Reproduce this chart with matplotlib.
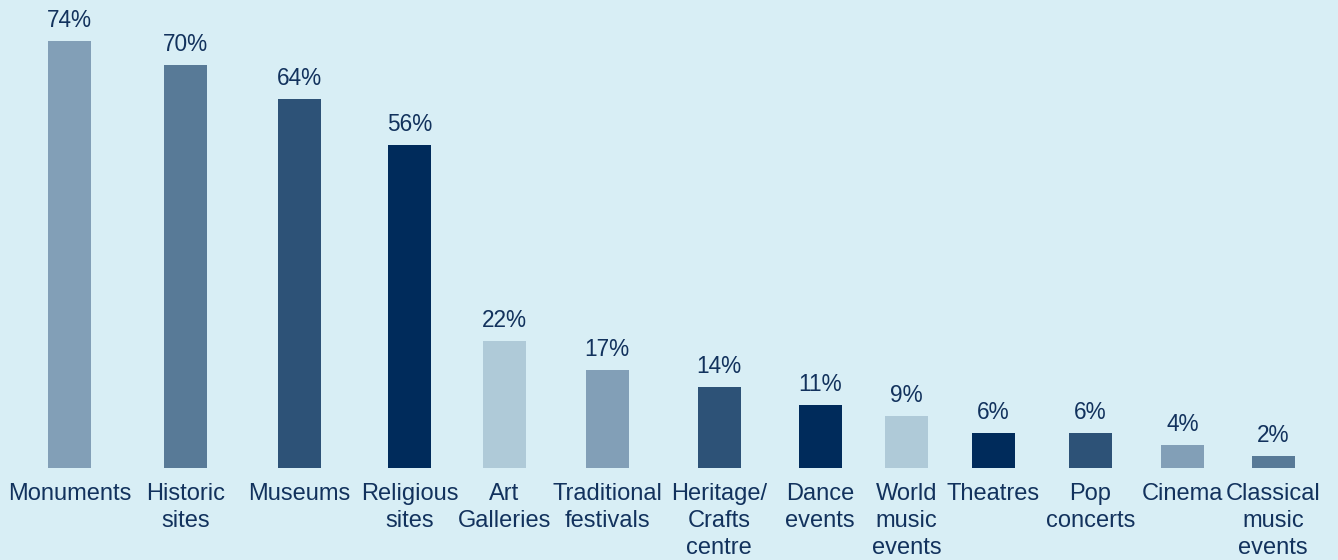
import matplotlib.pyplot as plt

# Share of visitors taking part in each cultural activity (%)
categories = [
    "Monuments", "Historic\nsites", "Museums", "Religious\nsites", "Art\nGalleries",
    "Traditional\nfestivals", "Heritage/\nCrafts\ncentre", "Dance\nevents",
    "World\nmusic\nevents", "Theatres", "Pop\nconcerts", "Cinema",
    "Classical\nmusic\nevents",
]
shares = [74, 70, 64, 56, 22, 17, 14, 11, 9, 6, 6, 4, 2]

# layout: bar centres along the axis (uneven, to leave room for the labels)
x_pos = [69.5, 185.3, 299.5, 409.5, 504.3, 607.3, 719.3, 820.3, 906.5,
         993.3, 1090.3, 1182.3, 1273.3]
bar_width = 42.5

LIGHT = "#afcad8"
PALE = "#829fb7"
MID = "#587a97"
DEEP = "#2d5277"
NAVY = "#002b5b"
bar_colors = [PALE, MID, DEEP, NAVY, LIGHT, PALE, DEEP, NAVY, LIGHT, NAVY, DEEP, PALE, MID]

BG = "#d8eef5"
TEXT = "#12325d"

plt.rcParams["font.family"] = ["Liberation Sans", "DejaVu Sans"]

fig = plt.figure(figsize=(13.38, 5.6), dpi=100, facecolor=BG)
ax = fig.add_axes([0, 0.1643, 1, 0.8357])
ax.set_facecolor(BG)

bars = ax.bar(x_pos, shares, width=bar_width, color=bar_colors, zorder=2)

for rect, val in zip(bars, shares):
    ax.annotate(f"{val}%", (rect.get_x() + rect.get_width() / 2, rect.get_height()),
                xytext=(0, 6.5), textcoords="offset points",
                ha="center", va="bottom", fontsize=16.3, color=TEXT)

ax.set_xlim(0, 1338)
ax.set_ylim(0, 81.2)
ax.set_xticks(x_pos)
ax.set_xticklabels(categories, fontsize=17, color=TEXT, linespacing=1.3)
ax.tick_params(axis="x", length=0, pad=10.5)
ax.set_yticks([])
for spine in ax.spines.values():
    spine.set_visible(False)

fig.savefig("out.png", dpi=100, facecolor=BG)
